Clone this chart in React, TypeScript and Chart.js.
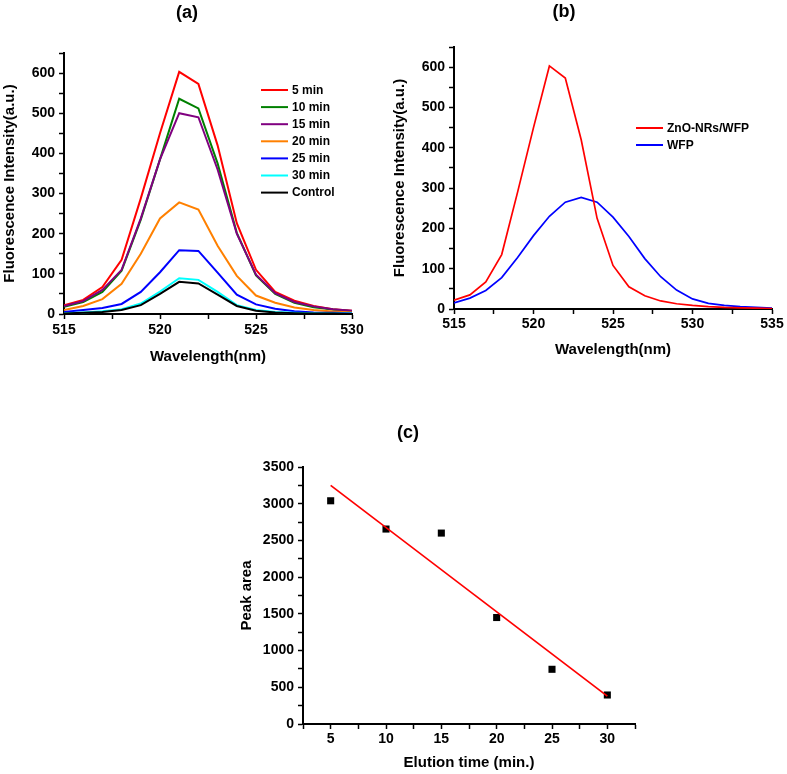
import React, { useEffect, useRef } from 'react';
import { Chart, registerables } from 'chart.js';
Chart.register(...registerables);

const FONT = '"Liberation Sans", Arial, Helvetica, sans-serif';

// ---- Panel (a) ----
const wavelengthsA = [515, 516, 517, 518, 519, 520, 521, 522, 523, 524, 525, 526, 527, 528, 529, 530];
const min5 = [22, 35, 67, 135, 288, 450, 603, 573, 420, 226, 110, 55, 33, 20, 12, 8];
const min10 = [18, 30, 55, 108, 235, 385, 536, 512, 375, 202, 96, 50, 28, 17, 11, 7];
const min15 = [20, 32, 60, 110, 238, 385, 500, 490, 360, 200, 98, 52, 30, 19, 12, 8];
const min20 = [10, 20, 37, 75, 150, 238, 278, 260, 170, 95, 46, 28, 16, 10, 6, 4];
const min25 = [5, 10, 15, 25, 55, 104, 159, 157, 103, 48, 24, 13, 7, 4, 3, 2];
const min30 = [2, 4, 7, 12, 26, 56, 89, 85, 55, 22, 10, 5, 3, 2, 1, 1];
const control = [1, 3, 5, 10, 22, 50, 80, 76, 48, 20, 8, 4, 2, 1, 1, 0];
const seriesNamesA = ['5 min', '10 min', '15 min', '20 min', '25 min', '30 min', 'Control'];
const seriesColorsA = ['#ff0000', '#008000', '#800080', '#ff8000', '#0000ff', '#00ffff', '#000000'];

// ---- Panel (b) ----
const wavelengthsB = [515, 516, 517, 518, 519, 520, 521, 522, 523, 524, 525, 526, 527, 528, 529, 530, 531, 532, 533, 534, 535];
const znoWfp = [22, 35, 67, 135, 290, 450, 603, 573, 420, 225, 108, 55, 33, 20, 13, 9, 6, 4, 3, 2, 1];
const wfp = [15, 27, 46, 78, 128, 182, 230, 265, 277, 265, 228, 180, 125, 80, 47, 25, 14, 9, 6, 4, 2];
const seriesNamesB = ['ZnO-NRs/WFP', 'WFP'];
const seriesColorsB = ['#ff0000', '#0000ff'];

// ---- Panel (c) ----
const elutionTimes = [5, 10, 15, 20, 25, 30];
const peakAreas = [3040, 2655, 2600, 1450, 745, 395];
const fitTimes = [5, 30];
const fitAreas = [3250, 380];

const toXY = (xs: number[], ys: number[]) => xs.map((x, i) => ({ x, y: ys[i] }));

const overlayPlugin = {
  id: 'overlay',
  afterDraw(chart: any, _args: any, opts: any) {
    const ctx = chart.ctx;
    ctx.save();
    if (opts.label) {
      ctx.font = `bold 18px ${FONT}`;
      ctx.fillStyle = '#000';
      ctx.textAlign = 'center';
      ctx.textBaseline = 'middle';
      ctx.fillText(opts.label, opts.labelX, opts.labelY);
    }
    if (opts.legend) {
      const lg = opts.legend;
      let row = 0;
      chart.data.datasets.forEach((ds: any) => {
        if (ds.inLegend === false) return;
        const y = lg.y + row * lg.rowH;
        ctx.strokeStyle = ds.borderColor;
        ctx.lineWidth = 2;
        ctx.beginPath();
        ctx.moveTo(lg.x, y);
        ctx.lineTo(lg.x + lg.len, y);
        ctx.stroke();
        ctx.font = `bold 12px ${FONT}`;
        ctx.fillStyle = '#000';
        ctx.textAlign = 'left';
        ctx.textBaseline = 'middle';
        ctx.fillText(ds.label, lg.x + lg.len + lg.gap, y + 0.5);
        row++;
      });
    }
    ctx.restore();
  },
};

function axis(o: any) {
  const isY = o.axis === 'y';
  return {
    type: 'linear',
    position: isY ? 'left' : 'bottom',
    min: o.min,
    max: o.max,
    afterFit: (scale: any) => {
      if (isY) scale.width = o.size;
      else scale.height = o.size;
    },
    border: { display: true, color: '#000', width: 2 },
    grid: {
      display: true,
      drawOnChartArea: false,
      drawTicks: true,
      tickLength: 5,
      tickColor: '#000',
      tickWidth: 1.5,
    },
    ticks: {
      stepSize: o.step,
      autoSkip: false,
      maxRotation: 0,
      padding: o.pad,
      color: '#000',
      font: { family: FONT, size: 14, weight: 'bold' },
      callback: (v: number) => (Math.abs(v % o.major) < 1e-6 ? String(v) : ''),
    },
    title: {
      display: true,
      text: o.title,
      color: '#000',
      font: { family: FONT, size: 15, weight: 'bold' },
      padding: isY ? { top: 1, bottom: 0 } : { top: 0, bottom: 0 },
    },
  };
}

function Panel({ left, top, width, height, config }: any) {
  const ref = useRef<HTMLCanvasElement>(null);
  useEffect(() => {
    if (!ref.current) return;
    const chart = new Chart(ref.current, config);
    return () => chart.destroy();
  }, []);
  return (
    <canvas
      ref={ref}
      width={width}
      height={height}
      style={{ position: 'absolute', left, top, width, height }}
    />
  );
}

const baseOptions = (padding: any, x: any, y: any, overlay: any) => ({
  responsive: false,
  animation: false,
  devicePixelRatio: 1,
  layout: { padding },
  plugins: { legend: { display: false }, tooltip: { enabled: false }, title: { display: false }, overlay },
  scales: { x, y },
});

const seriesA = [min5, min10, min15, min20, min25, min30, control];

const configA: any = {
  type: 'line',
  data: {
    datasets: seriesA.map((s, i) => ({
      label: seriesNamesA[i],
      data: toXY(wavelengthsA, s),
      borderColor: seriesColorsA[i],
      backgroundColor: seriesColorsA[i],
      borderWidth: 2,
      pointRadius: 0,
      tension: 0,
      fill: false,
      order: seriesA.length - i,
    })),
  },
  options: baseOptions(
    { left: 0, top: 53, right: 22, bottom: 0 },
    axis({ axis: 'x', min: 515, max: 530, step: 2.5, major: 5, size: 52, pad: 3, title: 'Wavelength(nm)' }),
    axis({ axis: 'y', min: 0, max: 650, step: 50, major: 100, size: 64, pad: 4, title: 'Fluorescence Intensity(a.u.)' }),
    { label: '(a)', labelX: 187, labelY: 13, legend: { x: 261, y: 90, len: 27, gap: 4, rowH: 17.1 } }
  ),
  plugins: [overlayPlugin],
};

const seriesB = [znoWfp, wfp];
const configB: any = {
  type: 'line',
  data: {
    datasets: seriesB.map((s, i) => ({
      label: seriesNamesB[i],
      data: toXY(wavelengthsB, s),
      borderColor: seriesColorsB[i],
      backgroundColor: seriesColorsB[i],
      borderWidth: 1.7,
      pointRadius: 0,
      tension: 0,
      fill: false,
    })),
  },
  options: baseOptions(
    { left: 0, top: 47, right: 15, bottom: 0 },
    axis({ axis: 'x', min: 515, max: 535, step: 2.5, major: 5, size: 50, pad: 2, title: 'Wavelength(nm)' }),
    axis({ axis: 'y', min: 0, max: 650, step: 50, major: 100, size: 64, pad: 4, title: 'Fluorescence Intensity(a.u.)' }),
    { label: '(b)', labelX: 174, labelY: 12, legend: { x: 246, y: 128, len: 27, gap: 4, rowH: 17 } }
  ),
  plugins: [overlayPlugin],
};

const configC: any = {
  type: 'scatter',
  data: {
    datasets: [
      {
        type: 'line',
        label: 'Linear fit',
        inLegend: false,
        data: toXY(fitTimes, fitAreas),
        borderColor: '#ff0000',
        backgroundColor: '#ff0000',
        borderWidth: 1.7,
        pointRadius: 0,
        tension: 0,
        fill: false,
        order: 0,
      },
      {
        type: 'scatter',
        label: 'Peak area',
        inLegend: false,
        data: toXY(elutionTimes, peakAreas),
        borderColor: '#000',
        backgroundColor: '#000',
        pointStyle: 'rect',
        pointRadius: 5,
        borderWidth: 0,
        order: 1,
      },
    ],
  },
  options: baseOptions(
    { left: 0, top: 47, right: 15, bottom: 0 },
    axis({ axis: 'x', min: 2.5, max: 32.5, step: 2.5, major: 5, size: 48, pad: 2, title: 'Elution time (min.)' }),
    axis({ axis: 'y', min: 0, max: 3500, step: 250, major: 500, size: 66, pad: 4, title: 'Peak area' }),
    { label: '(c)', labelX: 171, labelY: 13 }
  ),
  plugins: [overlayPlugin],
};

export default function App() {
  return (
    <div style={{ position: 'absolute', left: 0, top: 0, width: 787, height: 774, background: '#fff' }}>
      <Panel left={0} top={0} width={374} height={366} config={configA} />
      <Panel left={390} top={0} width={397} height={359} config={configB} />
      <Panel left={237} top={420} width={413} height={352} config={configC} />
    </div>
  );
}
